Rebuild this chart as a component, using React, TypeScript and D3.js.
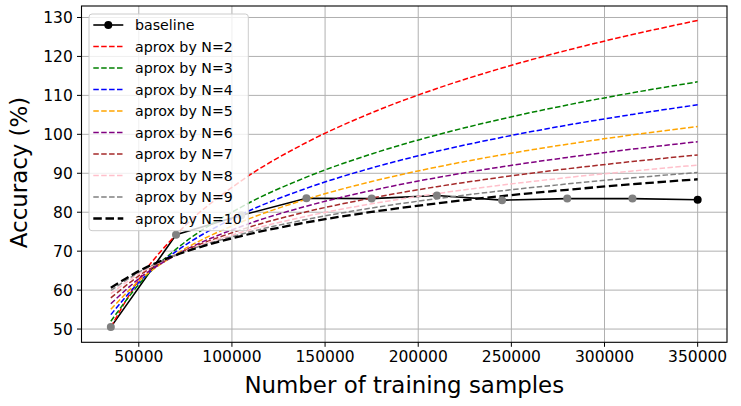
import React from 'react';
import * as d3 from 'd3';

// ---- data ----
const baselineX = [35000, 70000, 105000, 140000, 175000, 210000, 245000, 280000, 315000, 350000];
const baselineY = [50.5, 74.2, 79.2, 83.6, 83.5, 84.3, 83.1, 83.5, 83.5, 83.2];

const approxX = [35000, 52500, 70000, 105000, 140000, 175000, 210000, 245000, 280000, 315000, 350000];
const approxN2 = [50.5, 64.36, 74.2, 88.06, 97.9, 105.53, 111.76, 117.03, 121.59, 125.62, 129.23];
const approxN3 = [52.0, 62.83, 70.51, 81.33, 89.01, 94.97, 99.84, 103.96, 107.52, 110.67, 113.48];
const approxN4 = [53.7, 63.19, 69.92, 79.41, 86.14, 91.36, 95.63, 99.23, 102.36, 105.11, 107.58];
const approxN5 = [55.1, 63.36, 69.22, 77.48, 83.34, 87.88, 91.6, 94.74, 97.46, 99.86, 102.0];
const approxN6 = [56.5, 63.83, 69.02, 76.35, 81.55, 85.58, 88.88, 91.66, 94.07, 96.2, 98.11];
const approxN7 = [58.0, 64.46, 69.05, 75.51, 80.1, 83.65, 86.56, 89.02, 91.15, 93.02, 94.7];
const approxN8 = [59.1, 64.91, 69.03, 74.84, 78.97, 82.16, 84.78, 86.98, 88.9, 90.59, 92.1];
const approxN9 = [59.9, 65.24, 69.02, 74.36, 78.14, 81.08, 83.48, 85.51, 87.26, 88.82, 90.2];
const approxN10 = [60.6, 65.51, 68.99, 73.89, 77.37, 80.07, 82.28, 84.15, 85.76, 87.19, 88.46];

const approxSeries = [approxN2, approxN3, approxN4, approxN5, approxN6, approxN7, approxN8, approxN9, approxN10];
const approxLabels = ['aprox by N=2', 'aprox by N=3', 'aprox by N=4', 'aprox by N=5', 'aprox by N=6', 'aprox by N=7', 'aprox by N=8', 'aprox by N=9', 'aprox by N=10'];
const approxColors = ['#ff0000', '#008000', '#0000ff', '#ffa500', '#800080', '#a52a2a', '#ffc0cb', '#808080', '#000000'];

const xTicks = [50000, 100000, 150000, 200000, 250000, 300000, 350000];
const yTicks = [50, 60, 70, 80, 90, 100, 110, 120, 130];

// ---- layout ----
const W = 741;
const H = 406;
const L = 81.5;
const R = 727;
const T = 6;
const B = 342.3;
const FONT = 'DejaVu Sans';

export default function App() {
  const x = d3.scaleLinear().domain([19250, 365750]).range([L, R]);
  const y = d3.scaleLinear().domain([46.6, 132.95]).range([B, T]);

  const line = d3
    .line<[number, number]>()
    .x((d) => x(d[0]))
    .y((d) => y(d[1]))
    .curve(d3.curveMonotoneX);
  const straight = d3
    .line<[number, number]>()
    .x((d) => x(d[0]))
    .y((d) => y(d[1]));

  const basePts: [number, number][] = baselineX.map((v, i) => [v, baselineY[i]]);

  const legendTop = 25;
  const legendStep = 21.5;
  const legendEntries = ['baseline', ...approxLabels];

  return (
    <svg
      width={W}
      height={H}
      style={{ position: 'absolute', left: 0, top: 0, display: 'block', background: '#fff' }}
      fontFamily={FONT}
    >
      <defs>
        <clipPath id="plotclip">
          <rect x={L} y={T} width={R - L} height={B - T} />
        </clipPath>
      </defs>
      {/* grid */}
      {xTicks.map((t) => (
        <line key={'gx' + t} x1={x(t)} x2={x(t)} y1={T} y2={B} stroke="#b0b0b0" strokeWidth={1} />
      ))}
      {yTicks.map((t) => (
        <line key={'gy' + t} x1={L} x2={R} y1={y(t)} y2={y(t)} stroke="#b0b0b0" strokeWidth={1} />
      ))}

      <g clipPath="url(#plotclip)">
        {/* baseline line */}
        <path d={straight(basePts) || ''} fill="none" stroke="#000" strokeWidth={1.6} />
        {/* approximations */}
        {approxSeries.map((s, i) => {
          const pts: [number, number][] = approxX.map((v, j) => [v, s[j]]);
          const thick = i === approxSeries.length - 1;
          return (
            <path
              key={'ap' + i}
              d={line(pts) || ''}
              fill="none"
              stroke={approxColors[i]}
              strokeWidth={thick ? 2.3 : 1.5}
              strokeDasharray={thick ? '8.5,3.7' : '5.5,2.4'}
            />
          );
        })}
        {/* markers */}
        {basePts.map((p, i) => (
          <circle
            key={'m' + i}
            cx={x(p[0])}
            cy={y(p[1])}
            r={4}
            fill={i === basePts.length - 1 ? '#000' : '#808080'}
          />
        ))}
      </g>

      {/* spines */}
      <rect x={L} y={T} width={R - L} height={B - T} fill="none" stroke="#000" strokeWidth={1.1} />

      {/* x ticks */}
      {xTicks.map((t) => (
        <g key={'xt' + t}>
          <line x1={x(t)} x2={x(t)} y1={B} y2={B + 4.5} stroke="#000" strokeWidth={1} />
          <text x={x(t)} y={362} textAnchor="middle" fontSize={15.5} fill="#000">
            {String(t)}
          </text>
        </g>
      ))}
      {/* y ticks */}
      {yTicks.map((t) => (
        <g key={'yt' + t}>
          <line x1={L - 4.5} x2={L} y1={y(t)} y2={y(t)} stroke="#000" strokeWidth={1} />
          <text x={72.8} y={y(t)} dy="0.36em" textAnchor="end" fontSize={15.5} fill="#000">
            {String(t)}
          </text>
        </g>
      ))}

      {/* axis labels */}
      <text x={(L + R) / 2} y={393.3} textAnchor="middle" fontSize={22.9} fill="#000">
        Number of training samples
      </text>
      <text
        transform={`translate(27, 172.5) rotate(-90)`}
        textAnchor="middle"
        fontSize={22.9}
        fill="#000"
      >
        Accuracy (%)
      </text>

      {/* legend */}
      <rect x={89} y={14} width={159.3} height={216.7} rx={3} fill="#fff" fillOpacity={0.8} stroke="#cccccc" strokeWidth={1} />
      {legendEntries.map((name, i) => {
        const cy = legendTop + i * legendStep;
        if (i === 0) {
          return (
            <g key="lg0">
              <line x1={93.3} x2={123.3} y1={cy} y2={cy} stroke="#000" strokeWidth={1.6} />
              <circle cx={108.3} cy={cy} r={4} fill="#000" />
              <text x={135} y={cy} dy="0.36em" fontSize={14.2} fill="#000">
                {name}
              </text>
            </g>
          );
        }
        const thick = i === legendEntries.length - 1;
        return (
          <g key={'lg' + i}>
            <line
              x1={93.3}
              x2={123.3}
              y1={cy}
              y2={cy}
              stroke={approxColors[i - 1]}
              strokeWidth={thick ? 2.3 : 1.5}
              strokeDasharray={thick ? '8.5,3.7' : '5.5,2.4'}
            />
            <text x={135} y={cy} dy="0.36em" fontSize={14.2} fill="#000">
              {name}
            </text>
          </g>
        );
      })}
    </svg>
  );
}
